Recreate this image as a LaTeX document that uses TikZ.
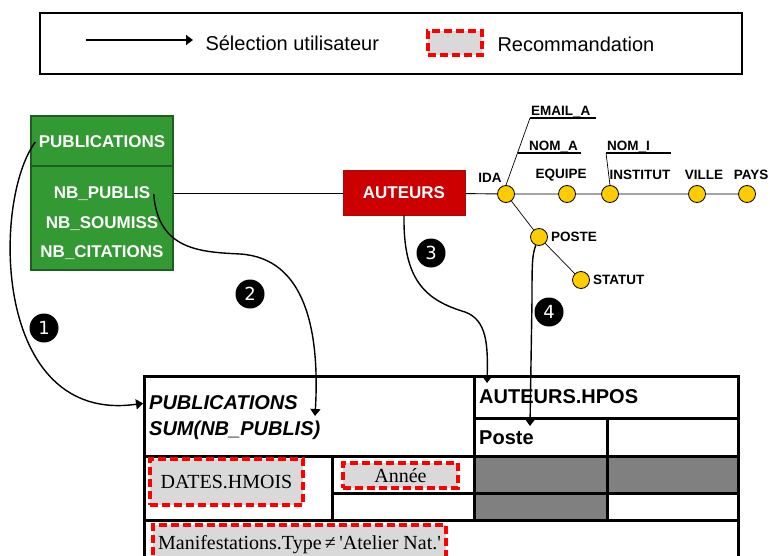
\documentclass[tikz,border=0pt]{standalone}
\usepackage{fontspec}
\setmainfont{Liberation Serif}
\setsansfont{Liberation Sans}
\newfontfamily\numfont{DejaVu Sans}
\usetikzlibrary{arrows.meta,positioning}
\usepackage{xcolor}
\definecolor{pubgreen}{HTML}{339933}
\definecolor{pubdark}{HTML}{1E5E1E}
\definecolor{autred}{HTML}{CC0000}
\definecolor{autdark}{HTML}{9E1010}
\definecolor{attryellow}{HTML}{FFCC00}

\begin{document}
\begin{tikzpicture}[x=1pt,y=-1pt]
        \tikzstyle{attr} = [circle, draw, line width=0.8pt, fill=attryellow, inner sep=0pt, minimum size=17pt]
        \tikzstyle{lbl} = [font=\sffamily\bfseries\fontsize{13.5}{15}\selectfont, inner sep=1pt]
        \tikzstyle{boxtxt} = [text=white, font=\sffamily\bfseries\fontsize{17}{19}\selectfont]
        \tikzstyle{reco} = [draw=red, fill=gray!30, line width=3.5pt, dash pattern=on 8pt off 4pt, font=\fontsize{20}{22}\selectfont, inner sep=0pt]
        \tikzstyle{num} = [circle, fill=black, text=white, inner sep=0pt, minimum size=29pt, font=\numfont\fontsize{18}{18}\selectfont]
        \tikzstyle{sel} = [-{Triangle[length=7pt,width=10pt]}, line width=1.4pt]
        \tikzstyle{hdr} = [anchor=west, font=\sffamily\bfseries\fontsize{20}{22}\selectfont, inner sep=4pt]

        \useasboundingbox (0,0) rectangle (770,556);

        % legend
        \draw[line width=1.2pt] (40,13) rectangle (742,74);
        \coordinate (la) at (86,40);
        \coordinate (lb) at (193,40);
        \draw[sel, line width=1.8pt] (la) -- (lb);
        \node[anchor=west, font=\sffamily\fontsize{20}{22}\selectfont] (selt) at (202,43) {Sélection utilisateur};
        \node[reco, minimum width=54pt, minimum height=24pt] (lreco) at (455,43) {};
        \node[anchor=west, font=\sffamily\fontsize{20}{22}\selectfont] (rect) at (494,44) {Recommandation};

        % PUBLICATIONS
        \node[draw=pubdark, fill=pubgreen, line width=1.5pt, minimum width=142pt, minimum height=154pt] (pub) at (102,193) {};
        \draw[pubdark, line width=1.5pt] (31,166) -- (173,166);
        \node[boxtxt] (pubtitle) at (102,142) {PUBLICATIONS};
        \node[boxtxt] (nbpub) at (102,194) {NB\_PUBLIS};
        \node[boxtxt] (nbsoum) at (102,224) {NB\_SOUMISS};
        \node[boxtxt] (nbcit) at (102,253) {NB\_CITATIONS};

        % AUTEURS
        \node[draw=autdark, fill=autred, line width=1pt, minimum width=122pt, minimum height=44pt, boxtxt] (auteurs) at (404,193) {AUTEURS};
        \draw[line width=0.9pt] (pub.east |- auteurs) -- (auteurs);

        % hierarchy
        \node[attr] (ida) at (506,194) {};
        \node[attr] (equipe) at (567,194) {};
        \node[attr] (institut) at (610,194) {};
        \node[attr] (ville) at (697,194) {};
        \node[attr] (pays) at (747,194) {};
        \node[attr] (poste) at (539,237) {};
        \node[attr] (statut) at (581,280) {};
        \draw[line width=0.9pt] (auteurs) -- (ida) -- (equipe) -- (institut) -- (ville) -- (pays);
        \draw[line width=0.7pt] (ida) -- (poste) -- (statut);

        \node[lbl] (idal) at (490,178) {IDA};
        \node[lbl] (equipel) at (561,175) {EQUIPE};
        \node[lbl] (institutl) at (640,175) {INSTITUT};
        \node[lbl] (villel) at (704,175) {VILLE};
        \node[lbl] (paysl) at (751,175) {PAYS};
        \node[lbl, anchor=west] (postel) at (550,237) {POSTE};
        \node[lbl, anchor=west] (statutl) at (592,280) {STATUT};

        \node[lbl, anchor=south west] (email) at (530,118) {EMAIL\_A};
        \draw[line width=0.7pt] (ida.north) -- (email.south west);
        \draw[line width=1.4pt] (email.south west) -- ([xshift=4pt]email.south east);
        \coordinate (nak) at (518,153);
        \node[lbl, anchor=south west] (noma) at (528,153) {NOM\_A};
        \draw[line width=1.4pt] (nak) -- ([xshift=2pt]noma.south east);
        \node[lbl, anchor=south west] (nomi) at (606,153) {NOM\_I};
        \coordinate (nie) at (671,153);
        \draw[line width=0.7pt] (institut.north) -- (nomi.south west);
        \draw[line width=1.4pt] (nomi.south west) -- (nie);

        % table
        \fill[black!50] (474,456) rectangle (738,493);
        \fill[black!50] (474,493) rectangle (607,520);
        \draw[line width=3pt] (144,560) -- (144,376) -- (738,376) -- (738,560);
        \draw[line width=3pt] (144,456) -- (738,456);
        \draw[line width=3pt] (144,520) -- (738,520);
        \draw[line width=3pt] (474,376) -- (474,520);
        \draw[line width=3pt] (474,418) -- (738,418);
        \draw[line width=3pt] (332,456) -- (332,520);
        \draw[line width=3pt] (332,493) -- (738,493);
        \draw[line width=3pt] (607,418) -- (607,520);

        \node[hdr, font=\sffamily\bfseries\itshape\fontsize{20}{22}\selectfont] (pubt) at (145,403) {PUBLICATIONS};
        \node[hdr, font=\sffamily\bfseries\itshape\fontsize{20}{22}\selectfont] (sumt) at (145,430) {SUM(NB\_PUBLIS)};
        \node[hdr] (hpos) at (475,397) {AUTEURS.HPOS};
        \node[hdr] (postet) at (475,438) {Poste};

        \node[reco, minimum width=153pt, minimum height=46pt] (hmois) at (226.5,482) {DATES.HMOIS};
        \node[reco, minimum width=115pt, minimum height=25pt] (annee) at (400.5,475.5) {Année};
        \node[reco, minimum width=293pt, minimum height=40pt] (manif) at (299.5,545) {Manifestations.Type\,≠\,\textquotesingle Atelier Nat.\textquotesingle};

        % selections
        \coordinate (a2) at (315,416);
        \coordinate (a3) at (487,383);
        \coordinate (a4) at (530,426);
        \draw[sel, shorten >=2pt] (pubtitle.west) .. controls (-8,200) and (-8,425) .. (pubt.west);
        \draw[sel] (nbpub.east) .. controls (158,250) and (200,252) .. (240,254) .. controls (305,258) and (320,330) .. (a2);
        \draw[sel] (auteurs.south) .. controls (403,280) and (425,300) .. (465,312) .. controls (487,320) and (488,345) .. (a3);
        \draw[sel] (poste) .. controls (532,255) and (532,265) .. (532,300) -- (a4);

        \node[num] (n1) at (44,328) {1};
        \node[num] (n2) at (250,294) {2};
        \node[num] (n3) at (431,253) {3};
        \node[num] (n4) at (549,312) {4};
      \end{tikzpicture}
\end{document}
